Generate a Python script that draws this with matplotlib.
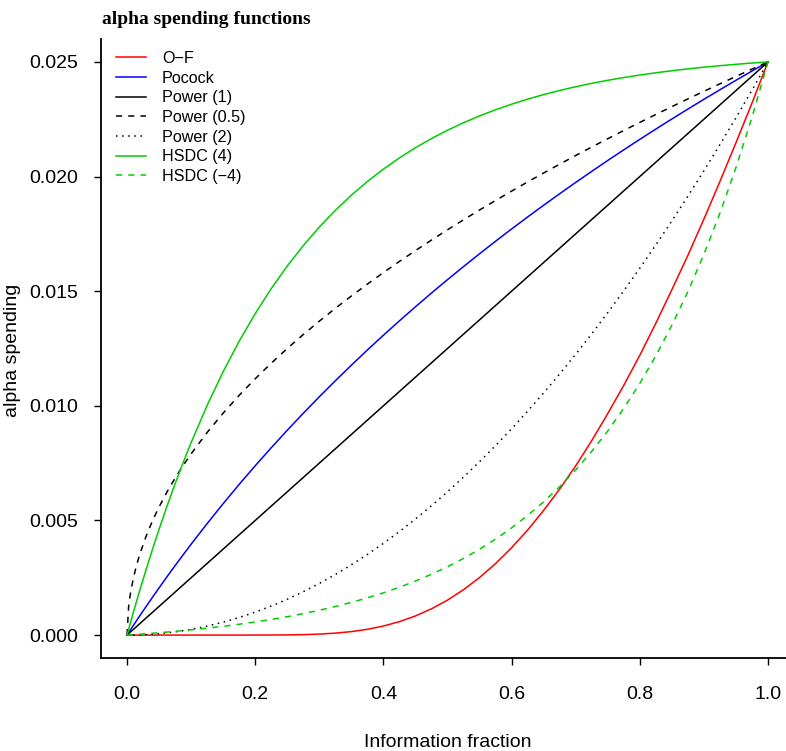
import matplotlib
matplotlib.use("Agg")
import matplotlib.pyplot as plt

# Information fraction positions at which values were read
t = [0.0, 0.0025, 0.005, 0.01, 0.015, 0.02, 0.03, 0.04, 0.05, 0.0625, 0.075, 0.0875,
     0.1, 0.125, 0.15, 0.175, 0.2, 0.225, 0.25, 0.275, 0.3, 0.325, 0.35, 0.375,
     0.4, 0.425, 0.45, 0.475, 0.5, 0.525, 0.55, 0.575, 0.6, 0.625, 0.65, 0.675,
     0.7, 0.725, 0.75, 0.775, 0.8, 0.825, 0.85, 0.875, 0.9, 0.925, 0.95, 0.975, 1.0]

of_vals = [0.0, 0.0, 0.0, 0.0, 0.0, 0.0, 0.0, 0.0, 0.0, 0.0, 0.0, 0.0,
           0.0, 0.0, 0.0, 0.0000001, 0.0000005, 0.0000023, 0.0000074, 0.0000192,
           0.000043, 0.0000844, 0.000151, 0.000252, 0.000394, 0.000586, 0.000834,
           0.001145, 0.001524, 0.001978, 0.00251, 0.003118, 0.00381, 0.00458,
           0.00544, 0.006368, 0.00738, 0.00848, 0.00966, 0.01089, 0.0122, 0.0136,
           0.01506, 0.01656, 0.01814, 0.01978, 0.02147, 0.0232, 0.025]
pocock_vals = [0.0, 0.000107, 0.000214, 0.000426, 0.000636, 0.000845, 0.001256,
               0.001662, 0.00206, 0.00255, 0.00303, 0.003502,
               0.003964, 0.004864, 0.005733, 0.006573, 0.007385, 0.008172,
               0.008934, 0.009675, 0.010394, 0.011092, 0.011772, 0.012434,
               0.013079, 0.013707, 0.01432, 0.014919, 0.015503, 0.016074,
               0.016632, 0.017179, 0.017713, 0.018236, 0.018749, 0.019251,
               0.019743, 0.020226, 0.0207, 0.021165, 0.021622, 0.022069,
               0.02251, 0.022942, 0.023368, 0.023786, 0.024198, 0.024602, 0.025]
power1_vals = [0.0, 0.0000625, 0.000125, 0.00025, 0.000375, 0.0005, 0.00075,
               0.001, 0.00125, 0.0015625, 0.001875, 0.0021875,
               0.0025, 0.003125, 0.00375, 0.004375, 0.005, 0.005625, 0.00625,
               0.006875, 0.0075, 0.008125, 0.00875, 0.009375, 0.01, 0.010625,
               0.01125, 0.011875, 0.0125, 0.013125, 0.01375, 0.014375, 0.015,
               0.015625, 0.01625, 0.016875, 0.0175, 0.018125, 0.01875, 0.019375,
               0.02, 0.020625, 0.02125, 0.021875, 0.0225, 0.023125, 0.02375,
               0.024375, 0.025]
power05_vals = [0.0, 0.00125, 0.001768, 0.0025, 0.003062, 0.003536, 0.00433,
                0.005, 0.00559, 0.00625, 0.006847, 0.007395,
                0.007906, 0.008839, 0.009682, 0.010458, 0.01118, 0.011859,
                0.0125, 0.01311, 0.013693, 0.014252, 0.01479, 0.015309,
                0.015811, 0.016298, 0.016771, 0.01723, 0.017678, 0.018114,
                0.018541, 0.018957, 0.019365, 0.019764, 0.020156, 0.02054,
                0.020917, 0.021287, 0.021651, 0.022009, 0.022361, 0.022707,
                0.023049, 0.023385, 0.023717, 0.024044, 0.024367, 0.024686, 0.025]
power2_vals = [0.0, 0.00000016, 0.00000063, 0.0000025, 0.0000056, 0.00001,
               0.0000225, 0.00004, 0.0000625, 0.000098, 0.000141, 0.000191,
               0.00025, 0.000391, 0.000563, 0.000766, 0.001, 0.001266, 0.001563,
               0.001891, 0.00225, 0.002641, 0.003063, 0.003516, 0.004, 0.004516,
               0.005063, 0.005641, 0.00625, 0.006891, 0.007563, 0.008266, 0.009,
               0.009766, 0.010563, 0.011391, 0.01225, 0.013141, 0.014063,
               0.015016, 0.016, 0.017016, 0.018063, 0.019141, 0.02025, 0.021391,
               0.022563, 0.023766, 0.025]
hsdc4_vals = [0.0, 0.000253, 0.000504, 0.000999, 0.001483, 0.001958, 0.00288,
              0.003765, 0.004616, 0.005633, 0.0066, 0.00752,
              0.008396, 0.01002, 0.01149, 0.01282, 0.014023, 0.015112, 0.016098,
              0.016989, 0.017796, 0.018526, 0.019186, 0.019784, 0.020324,
              0.020814, 0.021257, 0.021657, 0.022019, 0.022348, 0.022644,
              0.022913, 0.023156, 0.023376, 0.023575, 0.023755, 0.023917,
              0.024065, 0.024198, 0.024319, 0.024428, 0.024527, 0.024616,
              0.024697, 0.02477, 0.024836, 0.024896, 0.024951, 0.025]
hsdcm4_vals = [0.0, 0.0000047, 0.0000094, 0.000019, 0.0000288, 0.0000388,
               0.0000595, 0.000081, 0.000103, 0.000132, 0.000163, 0.000195,
               0.000229, 0.000303, 0.000383, 0.000473, 0.000572, 0.000681,
               0.000801, 0.000935, 0.001082, 0.001245, 0.001425, 0.001624,
               0.001844, 0.002087, 0.002355, 0.002652, 0.00298, 0.003343,
               0.003743, 0.004186, 0.004675, 0.005216, 0.005814, 0.006474,
               0.007204, 0.008011, 0.008902, 0.009888, 0.010977, 0.01218,
               0.01351, 0.01498, 0.016604, 0.0184, 0.020384, 0.022577, 0.025]

labels = ["O\u2212F", "Pocock", "Power (1)", "Power (0.5)", "Power (2)",
          "HSDC (4)", "HSDC (\u22124)"]
x_ticks = [0.0, 0.2, 0.4, 0.6, 0.8, 1.0]
y_ticks = [0.000, 0.005, 0.010, 0.015, 0.020, 0.025]

plt.rcParams['font.family'] = ['Liberation Sans', 'DejaVu Sans']

W, H = 786, 751
fig = plt.figure(figsize=(W / 100, H / 100), dpi=100)
x0, x1 = 101.4, 793.6
y_top, y_bot = 39.0, 658.0
ax = fig.add_axes([x0 / W, 1 - y_bot / H, (x1 - x0) / W, (y_bot - y_top) / H])

lw = 1.1
green = "#00CD00"
ax.plot(t, of_vals, color="#FF0000", lw=lw, label=labels[0])
ax.plot(t, pocock_vals, color="#0000FF", lw=lw, label=labels[1])
ax.plot(t, power1_vals, color="black", lw=lw, label=labels[2])
ax.plot(t, power05_vals, color="black", lw=lw, dashes=(4, 4), label=labels[3])
ax.plot(t, power2_vals, color="black", lw=lw, dashes=(1, 3), label=labels[4])
ax.plot(t, hsdc4_vals, color=green, lw=lw, label=labels[5])
ax.plot(t, hsdcm4_vals, color=green, lw=lw, dashes=(4, 4), label=labels[6])

ax.set_xlim(-0.04, 1.04)
ax.set_ylim(-0.001, 0.026)
ax.set_xticks(x_ticks)
ax.set_xticklabels([f"{v:.1f}" for v in x_ticks])
ax.set_yticks(y_ticks)
ax.set_yticklabels([f"{v:.3f}" for v in y_ticks])
ax.spines['top'].set_visible(False)
ax.spines['right'].set_visible(False)
for s in ('left', 'bottom'):
    ax.spines[s].set_linewidth(1.3)
ax.tick_params(axis='both', length=5, width=1.0, labelsize=14, direction='out')
ax.tick_params(axis='x', pad=15)
ax.tick_params(axis='y', pad=12)

ax.set_xlabel("Information fraction", fontsize=14)
ax.set_ylabel("alpha spending", fontsize=14)
ax.yaxis.set_label_coords(-(x0 - 21) / (x1 - x0), (y_bot - 350) / (y_bot - y_top))
ax.xaxis.set_label_coords((448 - x0) / (x1 - x0), -(734 - y_bot) / (y_bot - y_top))

fig.text(102 / W, 1 - 20 / H, "alpha spending functions", fontsize=14,
         fontweight='bold', family='Liberation Serif', ha='left', va='center')

leg = ax.legend(loc='upper left',
                bbox_to_anchor=((116 - x0) / (x1 - x0), (y_bot - 51) / (y_bot - y_top)),
                frameon=False, fontsize=11.6, handlelength=1.85, handletextpad=1.0,
                labelspacing=0.29, borderaxespad=0, borderpad=0)

fig.savefig("out.png", dpi=100)
